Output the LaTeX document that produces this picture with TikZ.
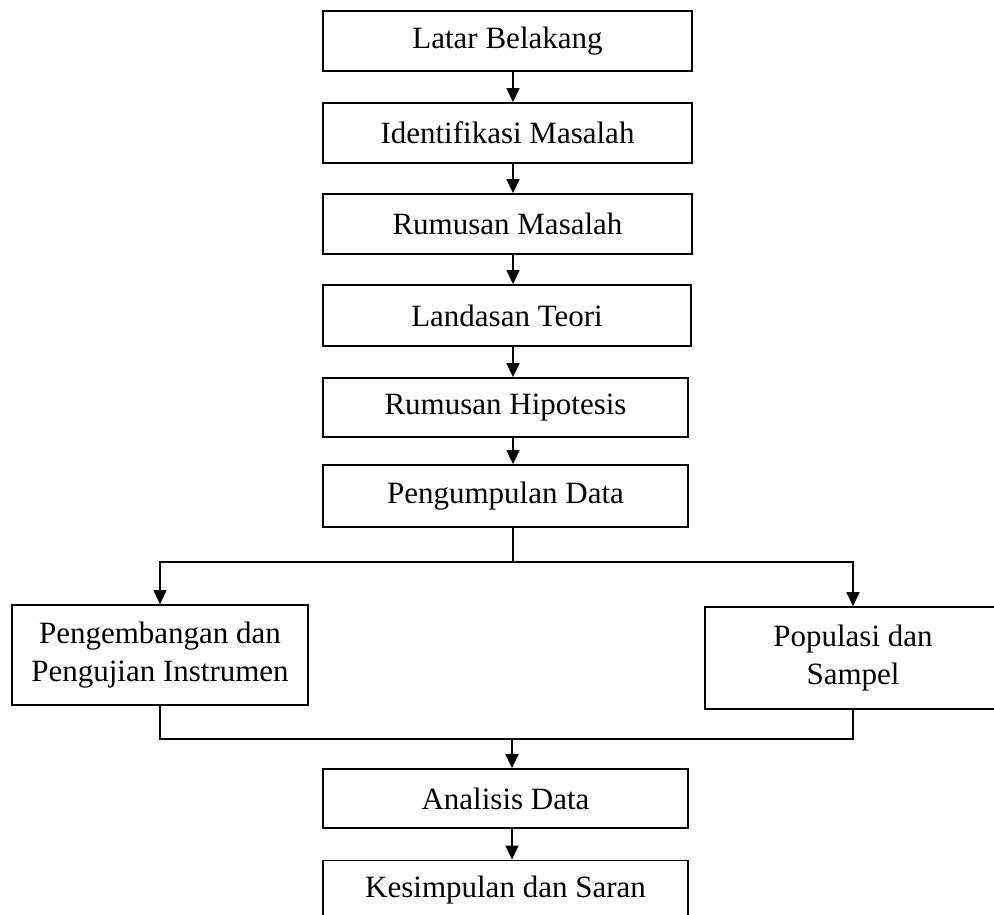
\documentclass[tikz,border=0pt]{standalone}
\usepackage{fontspec}
\setmainfont{Liberation Serif}
\usetikzlibrary{arrows.meta,calc}
\begin{document}
\begin{tikzpicture}[x=1pt,y=-1pt,
  box/.style={draw=black,line width=1.8pt,inner sep=0pt,align=center,
    font=\fontsize{31}{38}\selectfont},
  conn/.style={draw=black,line width=1.6pt},
  arr/.style={conn,-{Triangle[width=13pt,length=14pt]}}]
\useasboundingbox (0,0) rectangle (994,915);
\node[box,minimum width=369pt,minimum height=60pt] (n1) at (507.5,41) {Latar Belakang};
\node[box,minimum width=369pt,minimum height=60pt] (n2) at (507.5,133) {Identifikasi Masalah};
\node[box,minimum width=369pt,minimum height=60pt] (n3) at (507.5,224) {Rumusan Masalah};
\node[box,minimum width=368pt,minimum height=61pt] (n4) at (507,315.5) {Landasan Teori};
\node[box,minimum width=365pt,minimum height=59pt] (n5) at (505.5,407.5) {Rumusan Hipotesis};
\node[box,minimum width=365pt,minimum height=62pt] (n6) at (505.5,496) {Pengumpulan Data};
\node[box,minimum width=296pt,minimum height=100pt] (L) at (160,655) {Pengembangan dan\\Pengujian Instrumen};
\node[box,minimum width=296pt,minimum height=102pt] (R) at (853,658) {Populasi dan\\Sampel};
\node[box,minimum width=365pt,minimum height=59pt] (A) at (505.5,798.5) {Analisis Data};
\node[box,minimum width=365pt,minimum height=59pt] (K) at (505.5,890) {Kesimpulan dan Saran};
\coordinate (ax) at (513,0);
\coordinate (bx) at (512,0);
\coordinate (top) at (513,562);
\coordinate (bot) at (512,739);
\draw[arr] (n1.south -| ax) -- (n2.north -| ax);
\draw[arr] (n2.south -| ax) -- (n3.north -| ax);
\draw[arr] (n3.south -| ax) -- (n4.north -| ax);
\draw[arr] (n4.south -| ax) -- (n5.north -| ax);
\draw[arr] (n5.south -| ax) -- (n6.north -| ax);
\draw[conn] (n6.south -| ax) -- (top);
\draw[arr] (top) -| (L.north);
\draw[arr] (top) -| (R.north);
\draw[conn] (L.south) |- (bot);
\draw[conn] (R.south) |- (bot);
\draw[arr] (bot) -- (A.north -| bx);
\draw[arr] (A.south -| bx) -- (K.north -| bx);
\end{tikzpicture}
\end{document}
